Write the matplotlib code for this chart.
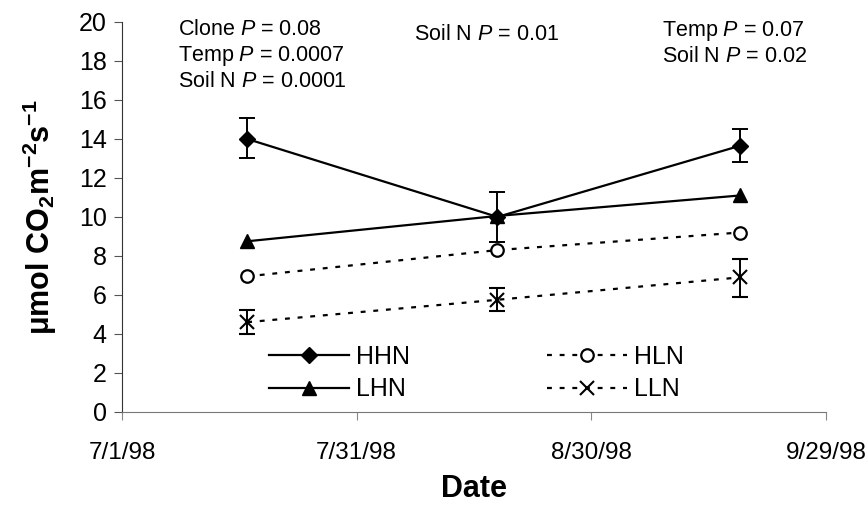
import datetime as dt
import matplotlib
matplotlib.use("Agg")
import matplotlib.pyplot as plt
import matplotlib.dates as mdates

plt.rcParams['font.family'] = ['Liberation Sans', 'DejaVu Sans']
plt.rcParams['mathtext.fontset'] = 'custom'
plt.rcParams['mathtext.rm'] = 'Liberation Sans'
plt.rcParams['mathtext.it'] = 'Liberation Sans:italic'
plt.rcParams['mathtext.bf'] = 'Liberation Sans:bold'

# sampling dates
dates = [dt.date(1998, 7, 17), dt.date(1998, 8, 18), dt.date(1998, 9, 18)]

# means and error (upper / lower) per treatment
hhn = [14.0, 10.0, 13.65]
hhn_lo = [1.0, 1.3, 0.85]
hhn_hi = [1.05, 1.3, 0.85]
lhn = [8.75, 10.05, 11.1]
hln = [6.95, 8.3, 9.2]
lln = [4.6, 5.75, 6.9]
lln_lo = [0.6, 0.6, 1.0]
lln_hi = [0.6, 0.6, 0.95]

tick_dates = [dt.date(1998, 7, 1), dt.date(1998, 7, 31),
              dt.date(1998, 8, 30), dt.date(1998, 9, 29)]
tick_labels = ["7/1/98", "7/31/98", "8/30/98", "9/29/98"]

stats_left = "Clone $\\mathit{P}$ = 0.08\nTemp $\\mathit{P}$ = 0.0007\nSoil N $\\mathit{P}$ = 0.0001"
stats_mid = "Soil N $\\mathit{P}$ = 0.01"
stats_right = "Temp $\\mathit{P}$ = 0.07\nSoil N $\\mathit{P}$ = 0.02"

fig = plt.figure(figsize=(8.65, 5.11), dpi=100)
ax = fig.add_axes([0.141, 0.194, 0.814, 0.763])

dash = (0, (2.2, 3.5))
e1 = ax.errorbar(dates, hhn, yerr=[hhn_lo, hhn_hi], color="k", lw=1.6,
                 marker="D", ms=8, capsize=6, capthick=1.4, elinewidth=1.4)
l2, = ax.plot(dates, lhn, color="k", lw=1.6, marker="^", ms=10)
l3, = ax.plot(dates, hln, color="k", lw=1.6, ls=dash, marker="o", ms=9,
              mfc="white", mew=1.6)
e4 = ax.errorbar(dates, lln, yerr=[lln_lo, lln_hi], color="k", lw=1.6, ls=dash,
                 marker="x", ms=10, mew=1.5, capsize=6, capthick=1.4, elinewidth=1.4)

ax.set_xlim(dt.date(1998, 7, 1), dt.date(1998, 9, 29) + dt.timedelta(days=0.8))
ax.set_ylim(0, 20)
ax.set_yticks(range(0, 21, 2))
ax.set_xticks([mdates.date2num(d) for d in tick_dates])
ax.set_xticklabels(tick_labels)

for s in ["top", "right"]:
    ax.spines[s].set_visible(False)
ax.spines["left"].set_color("#333333")
ax.spines["bottom"].set_color("#777777")
ax.tick_params(axis="y", length=6, width=0.8, color="#555555", labelsize=18, pad=5)
ax.tick_params(axis="x", length=6, width=0.8, color="#888888", labelsize=17.5, pad=16)

ax.set_ylabel("μmol CO$_\\mathbf{2}$m$^\\mathbf{-2}$s$^\\mathbf{-1}$",
              fontsize=22, fontweight="bold", labelpad=14)
ax.set_xlabel("Date", fontsize=22, fontweight="bold", labelpad=7)

ax.text(0.08, 1.008, stats_left, transform=ax.transAxes, fontsize=15.5,
        va="top", ha="left", linespacing=1.22)
ax.text(0.415, 0.996, stats_mid, transform=ax.transAxes, fontsize=15.5,
        va="top", ha="left")
ax.text(0.767, 1.008, stats_right, transform=ax.transAxes, fontsize=15.5,
        va="top", ha="left", linespacing=1.22)

ax.legend([e1[0], l2, l3, e4[0]], ["HHN", "LHN", "HLN", "LLN"], ncol=2, frameon=False,
          fontsize=18, loc="upper left", bbox_to_anchor=(269 / 865, 1 - 345 / 511),
          bbox_transform=fig.transFigure, borderpad=0, borderaxespad=0,
          handlelength=3.2, handletextpad=0.3, columnspacing=5.45, labelspacing=0.33)

fig.savefig("out.png", dpi=100)
